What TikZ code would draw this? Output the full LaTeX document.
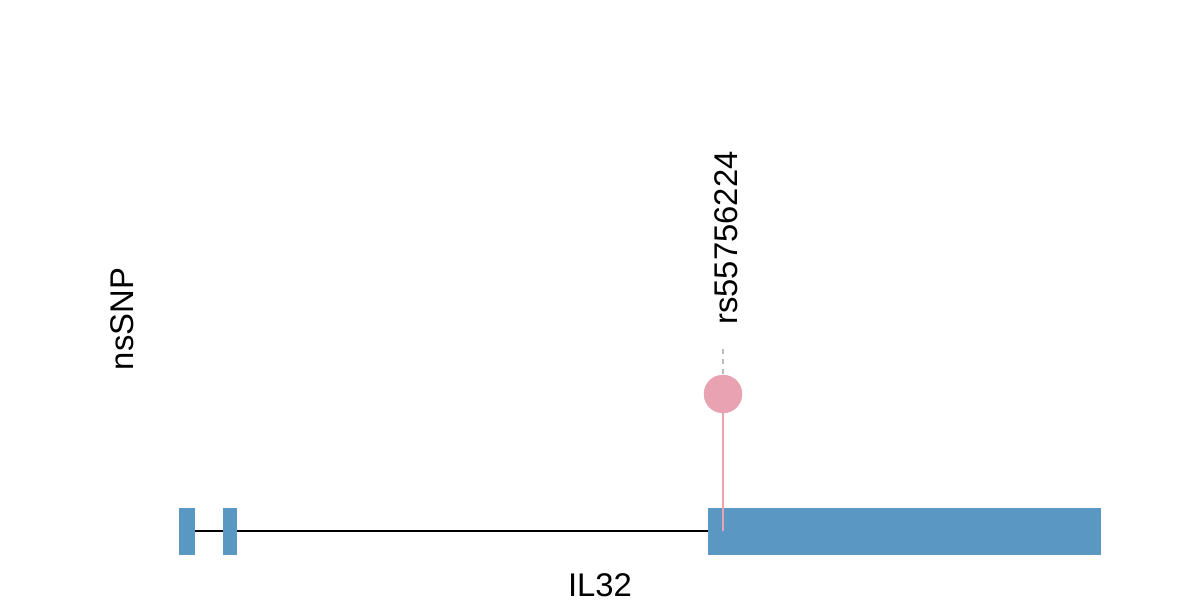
\documentclass[tikz,border=0pt]{standalone}
\usepackage{fontspec}
\setmainfont{Liberation Sans}
\definecolor{exonblue}{HTML}{5B97C3}
\definecolor{snppink}{HTML}{E8A2B2}
\definecolor{dashgray}{HTML}{BBBBBB}
\tikzset{
  exon/.style={fill=exonblue, draw=none},
  lbl/.style={font=\fontsize{32.8}{36}\selectfont, inner sep=0pt},
}
\begin{document}
\begin{tikzpicture}[x=1pt,y=-1pt]
\useasboundingbox (0,0) rectangle (1200,600);
% intron line
\coordinate (ls) at (195,531);
\coordinate (le) at (708,531);
\draw[line width=2pt] (ls) -- (le);
% exons
\node[exon, minimum width=16pt, minimum height=47pt, inner sep=0pt] (e1) at (187,531.5) {};
\node[exon, minimum width=14pt, minimum height=47pt, inner sep=0pt] (e2) at (230,531.5) {};
\node[exon, minimum width=393pt, minimum height=47pt, inner sep=0pt] (e3) at (904.5,531.5) {};
% SNP
\coordinate (base) at (723,531);
\node[circle, fill=snppink, draw=snppink!90!black!20!snppink, minimum size=38pt, inner sep=0pt] (snp) at (723,394) {};
\draw[snppink, line width=2pt] (snp.south) -- (base);
\coordinate (dtop) at (723,349);
\draw[dashgray, line width=2pt, dash pattern=on 5pt off 5pt] (dtop) -- (snp.north);
\node[lbl, rotate=90] (rs) at (726,238) {rs55756224};
\node[lbl, rotate=90] (ns) at (122,319) {nsSNP};
\node[lbl] (gene) at (600,585) {IL32};
\end{tikzpicture}
\end{document}
